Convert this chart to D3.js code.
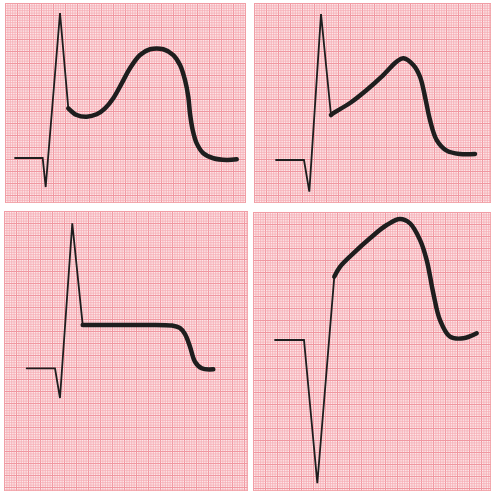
<!DOCTYPE html>
<html><head><meta charset="utf-8">
<script src="https://cdn.jsdelivr.net/npm/d3@7"></script>
<style>html,body{margin:0;padding:0;background:#fff;}svg{display:block;}</style>
</head><body>
<script>
// Data: time (ms), voltage (mV) relative to the isoelectric baseline
const panel1QRS = [[167,0],[628,0],[678,-1.21],[917,6.04],[1055,2.07]];
const panel1ST  = [[1055,2.07],[1195,1.79],[1362,1.72],[1528,1.82],[1667,2.07],[1805,2.49],[1945,3.11],[2083,3.74],[2250,4.29],[2417,4.53],[2638,4.53],[2805,4.29],[2917,3.875],[3000,3.25],[3055,2.55],[3083,1.86],[3128,1.17],[3195,0.61],[3305,0.20],[3472,-0.01],[3695,-0.08],[3862,-0.05]];

const panel2QRS = [[367,0],[833,0],[922,-1.32],[1117,6.08],[1283,1.875]];
const panel2ST  = [[1283,1.875],[1322,1.95],[1600,2.375],[1878,2.92],[2155,3.54],[2378,4.10],[2488,4.24],[2655,3.96],[2767,3.47],[2850,2.64],[2933,1.67],[3045,0.83],[3212,0.39],[3433,0.25],[3683,0.25]];

const panel3QRS = [[378,0],[850,0],[933,-1.24],[1138,6.04],[1312,1.80]];
const panel3ST  = [[1312,1.80],[2150,1.80],[2800,1.78],[2930,1.68],[3017,1.42],[3100,0.90],[3183,0.275],[3295,0],[3488,-0.04]];

const panel4QRS = [[367,0],[850,0],[1072,-5.97],[1355,2.64]];
const panel4ST  = [[1355,2.64],[1450,3.05],[1672,3.61],[1950,4.24],[2228,4.79],[2450,5.04],[2617,4.86],[2783,4.17],[2895,3.33],[3005,1.95],[3117,0.83],[3283,0.14],[3505,0.07],[3728,0.28]];

const traces = [
  {qrs: panel1QRS, st: panel1ST},
  {qrs: panel2QRS, st: panel2ST},
  {qrs: panel3QRS, st: panel3ST},
  {qrs: panel4QRS, st: panel4ST}
];

// Layout (pixels)
const layout = [
  {x:5,   y:3,   w:241, h:200, base:155},
  {x:254, y:3,   w:237, h:200, base:157},
  {x:4,   y:211, w:244, h:280, base:157.3},
  {x:253, y:212, w:238, h:279, base:128}
];
const pxPerSecond = 60;   // 25 mm/s, 2.4 px/mm
const pxPerMV = 24;       // 10 mm/mV
const mm = 2.4;

const W = 491, H = 491;
const svg = d3.select("body").append("svg").attr("width", W).attr("height", H);

layout.forEach((L, i) => {
  const g = svg.append("g").attr("transform", `translate(${L.x},${L.y})`);
  const cid = "clip" + i;
  g.append("clipPath").attr("id", cid).append("rect").attr("width", L.w).attr("height", L.h);
  const gg = g.append("g").attr("clip-path", `url(#${cid})`);
  gg.append("rect").attr("width", L.w).attr("height", L.h).attr("fill", "#fde8ea");

  const nx = Math.ceil(L.w / mm), ny = Math.ceil(L.h / mm);
  gg.selectAll("line.v").data(d3.range(0, nx + 1)).join("line")
    .attr("x1", d => d * mm + 0.5).attr("x2", d => d * mm + 0.5)
    .attr("y1", 0).attr("y2", L.h)
    .attr("stroke", d => d % 5 === 0 ? "#f097a0" : "#f5abb2")
    .attr("stroke-width", d => d % 5 === 0 ? 1 : 0.8);
  gg.selectAll("line.h").data(d3.range(0, ny + 1)).join("line")
    .attr("y1", d => d * mm + 0.5).attr("y2", d => d * mm + 0.5)
    .attr("x1", 0).attr("x2", L.w)
    .attr("stroke", d => d % 5 === 0 ? "#f097a0" : "#f5abb2")
    .attr("stroke-width", d => d % 5 === 0 ? 1 : 0.8);
  gg.append("rect").attr("width", L.w).attr("height", L.h)
    .attr("fill", "none").attr("stroke", "#f0a0a6").attr("stroke-width", 1.5);

  const x = d3.scaleLinear().domain([0, 1000]).range([0, pxPerSecond]);
  const y = d3.scaleLinear().domain([0, 1]).range([L.base, L.base - pxPerMV]);

  const lineQ = d3.line().x(d => x(d[0])).y(d => y(d[1]));
  const lineS = d3.line().x(d => x(d[0])).y(d => y(d[1])).curve(d3.curveCatmullRom.alpha(0.5));

  g.append("path").datum(traces[i].qrs).attr("d", lineQ)
    .attr("fill", "none").attr("stroke", "#1e1e1e").attr("stroke-width", 1.8)
    .attr("stroke-linejoin", "miter").attr("stroke-linecap", "round");
  g.append("path").datum(traces[i].st).attr("d", lineS)
    .attr("fill", "none").attr("stroke", "#1e1e1e").attr("stroke-width", 4.5)
    .attr("stroke-linejoin", "round").attr("stroke-linecap", "round");
});
</script>
</body></html>
